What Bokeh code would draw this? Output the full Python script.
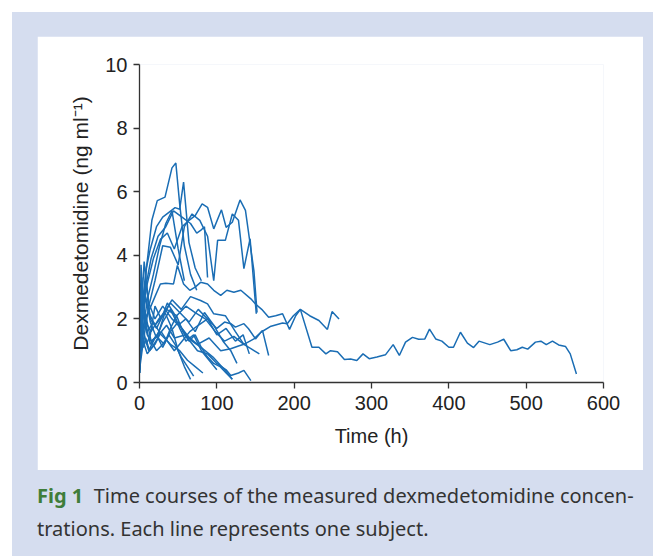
from bokeh.plotting import figure
from bokeh.models import FixedTicker, Div
from bokeh.layouts import column
from bokeh.embed import file_html
from bokeh.resources import INLINE

# ---- data ----
s01_t = [0, 4, 9, 16, 23, 33, 42, 47, 52, 58, 66, 74]
s01_c = [0.5, 1.9, 3.6, 5.1, 5.72, 5.83, 6.75, 6.9, 5.6, 4.3, 3.4, 2.9]
s02_t = [0, 3, 8, 14, 22, 30, 38, 46, 52, 57, 64, 72, 80]
s02_c = [0.7, 2.1, 3.5, 4.2, 4.9, 5.2, 5.35, 5.5, 5.45, 6.3, 4.4, 3.6, 3.2]
s03_t = [0, 4, 10, 18, 27, 36, 45, 55, 64, 72, 81, 88, 96, 106, 112, 120, 130, 137, 148, 152]
s03_c = [0.9, 2.3, 3.1, 3.9, 4.5, 4.7, 4.2, 4.9, 5.1, 5.25, 5.62, 5.51, 4.83, 5.43, 4.88, 5.04, 5.74, 5.41, 3.5, 2.2]
s04_t = [0, 3, 8, 15, 24, 34, 44, 55, 66, 74, 79, 84, 88]
s04_c = [0.6, 1.7, 3.0, 3.9, 4.6, 4.9, 5.4, 5.2, 5.0, 4.7, 4.78, 4.9, 3.3]
s05_t = [0, 5, 12, 20, 30, 40, 50, 58, 68, 78, 88, 96, 101, 111, 120, 128, 135, 143, 151]
s05_c = [0.4, 1.3, 2.4, 3.2, 4.3, 4.25, 3.7, 4.9, 5.3, 5.1, 4.6, 3.2, 4.47, 4.47, 5.3, 5.1, 3.58, 4.52, 2.16]
s06_t = [0, 4, 10, 18, 26, 34, 42, 50, 58]
s06_c = [0.5, 1.5, 2.6, 3.4, 4.3, 5.0, 5.4, 4.2, 3.2]
s07_t = [0, 3, 7, 13, 20, 27, 34, 44, 49, 57, 65, 72, 79, 88, 96, 105, 113, 122, 131, 144, 150,
         158, 167, 176, 185, 194, 202, 208, 223, 232, 241, 247, 256, 265, 273, 281, 289, 297,
         307, 318, 328, 336, 344, 353, 361, 369, 375, 383, 391, 400, 406, 415, 424, 432, 439,
         453, 463, 471, 480, 488, 495, 502, 512, 519, 526, 534, 542, 551, 557, 565]
s07_c = [0.3, 1.5, 2.0, 2.3, 2.7, 3.1, 3.12, 3.1, 3.68, 3.1, 2.9, 3.0, 3.15, 3.1, 2.9, 2.74, 2.9,
         2.84, 2.9, 2.63, 2.47, 2.3, 2.05, 2.1, 2.16, 1.67, 2.1, 2.3, 1.11, 1.11, 0.9, 1.0, 0.97,
         0.72, 0.74, 0.69, 0.9, 0.75, 0.8, 0.87, 1.19, 0.85, 1.27, 1.42, 1.36, 1.37, 1.68, 1.37,
         1.3, 1.11, 1.11, 1.58, 1.24, 1.1, 1.3, 1.19, 1.27, 1.36, 1.0, 1.03, 1.11, 1.05, 1.27,
         1.3, 1.19, 1.3, 1.18, 1.13, 0.9, 0.27]
s08_t = [0, 3, 8, 15, 25, 35, 48, 60, 72, 85, 98, 110, 122, 135, 148, 157, 169, 185, 191, 199,
         208, 220, 232, 243, 249, 258]
s08_c = [0.5, 1.4, 1.9, 1.6, 2.0, 2.3, 2.1, 2.4, 2.2, 2.0, 1.6, 1.3, 1.45, 1.2, 1.37, 1.58,
         1.76, 1.87, 1.85, 2.1, 2.3, 2.1, 1.95, 1.67, 2.23, 2.0]
s09_t = [0, 2, 6, 12, 20, 30, 40, 52, 64, 76, 88, 100, 110, 118, 124, 135, 141, 150, 159, 167]
s09_c = [0.4, 2.0, 2.8, 2.2, 1.8, 2.1, 2.5, 2.2, 1.9, 2.3, 2.0, 1.7, 1.9, 1.85, 1.74, 1.85, 1.69,
         1.37, 1.64, 0.85]
s10_t = [0, 3, 8, 14, 22, 32, 42, 54, 66, 79, 88, 96, 111, 124, 135, 145, 155]
s10_c = [0.6, 2.4, 3.2, 2.0, 1.7, 2.2, 2.6, 2.3, 2.7, 2.58, 2.47, 2.16, 2.1, 1.6, 1.2, 1.05, 0.9]
s11_t = [0, 2, 5, 10, 18, 28, 40, 52, 62, 72, 82]
s11_c = [0.3, 3.7, 2.2, 1.6, 1.9, 1.5, 1.2, 1.0, 0.7, 0.5, 0.3]
s12_t = [0, 3, 6, 12, 20, 30, 42, 55, 68, 80, 95, 110, 120]
s12_c = [0.5, 2.5, 3.8, 2.5, 2.0, 2.4, 2.0, 1.7, 1.3, 1.1, 0.8, 0.4, 0.1]
s13_t = [0, 2, 5, 9, 15, 25, 35, 45, 60, 75, 90, 105, 118, 128, 137]
s13_c = [0.3, 1.6, 2.4, 2.0, 1.3, 1.5, 1.8, 1.4, 1.5, 1.2, 1.4, 1.0, 1.06, 1.15, 1.22]
s14_t = [0, 2, 4, 8, 14, 22, 30, 40, 50, 62, 75, 88, 100, 112, 118, 128, 135, 144]
s14_c = [0.4, 1.2, 2.9, 1.8, 1.2, 1.5, 1.1, 1.6, 1.9, 1.4, 1.0, 0.9, 0.6, 0.4, 0.22, 0.3, 0.38, 0.06]
s15_t = [0, 3, 7, 12, 18, 25, 33, 42, 50, 58, 66]
s15_c = [0.5, 2.0, 1.4, 1.0, 1.3, 1.6, 2.2, 1.7, 1.0, 0.5, 0.1]
s16_t = [0, 2, 6, 10, 16, 24, 32, 40, 48, 56, 64, 72, 80, 88, 96, 104, 112, 120]
s16_c = [0.4, 1.8, 1.2, 0.9, 1.1, 1.4, 1.2, 1.7, 2.1, 1.6, 1.3, 1.5, 1.1, 0.8, 0.6, 0.5, 0.3, 0.1]
s17_t = [0, 3, 6, 10, 15, 22, 30, 38, 46, 54, 62, 70]
s17_c = [0.6, 3.3, 2.0, 1.5, 1.3, 1.0, 1.2, 1.5, 1.2, 0.8, 0.5, 0.2]
s18_t = [0, 2, 5, 9, 14, 20, 28, 36, 44, 52, 60, 70, 80, 90, 100]
s18_c = [0.3, 2.2, 1.6, 1.2, 1.5, 2.4, 2.0, 2.5, 2.2, 1.7, 1.3, 1.5, 1.0, 0.7, 0.4]
s19_t = [0, 4, 8, 14, 22, 30, 40, 50, 60, 72, 84, 96, 108, 118, 126]
s19_c = [0.7, 1.9, 2.7, 1.9, 1.4, 1.9, 2.3, 1.8, 2.0, 1.6, 2.2, 1.8, 1.3, 1.0, 0.6]
s20_t = [0, 2, 5, 8, 13, 20, 28, 36, 45, 55, 65, 76, 88, 100, 112, 124, 134, 142]
s20_c = [0.3, 1.5, 1.1, 1.4, 1.0, 1.2, 1.6, 1.3, 1.0, 1.3, 1.6, 1.8, 2.0, 1.5, 1.7, 1.3, 1.5, 0.9]

subjects = [(s01_t, s01_c), (s02_t, s02_c), (s03_t, s03_c), (s04_t, s04_c), (s05_t, s05_c),
            (s06_t, s06_c), (s07_t, s07_c), (s08_t, s08_c), (s09_t, s09_c), (s10_t, s10_c),
            (s11_t, s11_c), (s12_t, s12_c), (s13_t, s13_c), (s14_t, s14_c), (s15_t, s15_c),
            (s16_t, s16_c), (s17_t, s17_c), (s18_t, s18_c), (s19_t, s19_c), (s20_t, s20_c)]

x_ticks = [0, 100, 200, 300, 400, 500, 600]
y_ticks = [0, 2, 4, 6, 8, 10]

x_title = "Time (h)"
y_title = "Dexmedetomidine (ng ml\u207b\u00b9)"
cap_fig = "Fig 1"
cap_line1 = "Time courses of the measured dexmedetomidine concen-"
cap_line2 = "trations. Each line represents one subject."

LINE = "#1a6db4"
AX = "#333333"
FONT = "Liberation Sans"
CAPFONT = "Noto Sans"
BLUE_BG = "#d5ddef"

p = figure(width=606, height=434, output_backend="svg", toolbar_location=None,
           x_range=(0, 600), y_range=(0, 10),
           min_border_left=102, min_border_right=40, min_border_top=28, min_border_bottom=88,
           margin=(24, 10, 0, 25))
p.border_fill_color = "white"
p.background_fill_color = "white"
p.outline_line_color = None
p.grid.visible = False

for t, c in subjects:
    p.line(t, c, line_color=LINE, line_width=1.5)

for ax in (p.xaxis[0], p.yaxis[0]):
    ax.axis_line_color = AX
    ax.axis_line_width = 1.3
    ax.major_tick_line_color = AX
    ax.major_tick_line_width = 1.3
    ax.major_tick_out = 6
    ax.major_tick_in = 0
    ax.minor_tick_line_color = None
    ax.major_label_text_font = FONT
    ax.major_label_text_font_size = "20px"
    ax.major_label_text_color = "#222222"
    ax.axis_label_text_font = FONT
    ax.axis_label_text_font_style = "normal"
    ax.axis_label_text_color = "#222222"

p.xaxis[0].axis_label_text_font_size = "20px"
p.yaxis[0].axis_label_text_font_size = "21px"
p.xaxis[0].ticker = FixedTicker(ticks=x_ticks)
p.yaxis[0].ticker = FixedTicker(ticks=y_ticks)
p.xaxis[0].axis_label = x_title
p.yaxis[0].axis_label = y_title
p.xaxis[0].major_label_standoff = 7
p.yaxis[0].major_label_standoff = 6
p.xaxis[0].axis_label_standoff = 12
p.yaxis[0].axis_label_standoff = 10

caption = Div(
    text=(f'<span style="color:#3f7d3a;font-weight:bold">{cap_fig}</span>&nbsp; {cap_line1}<br>'
          f'{cap_line2}'),
    width=606, margin=(9, 5, 0, 25),
    styles={"font-family": "'Noto Sans', sans-serif", "font-size": "20px",
            "line-height": "33px", "color": "#333333", "white-space": "nowrap"})

page = column(p, caption, width=641, height=544, margin=(12, 0, 0, 12),
              styles={"background-color": BLUE_BG})

open("out.html", "w").write(file_html(page, INLINE))
